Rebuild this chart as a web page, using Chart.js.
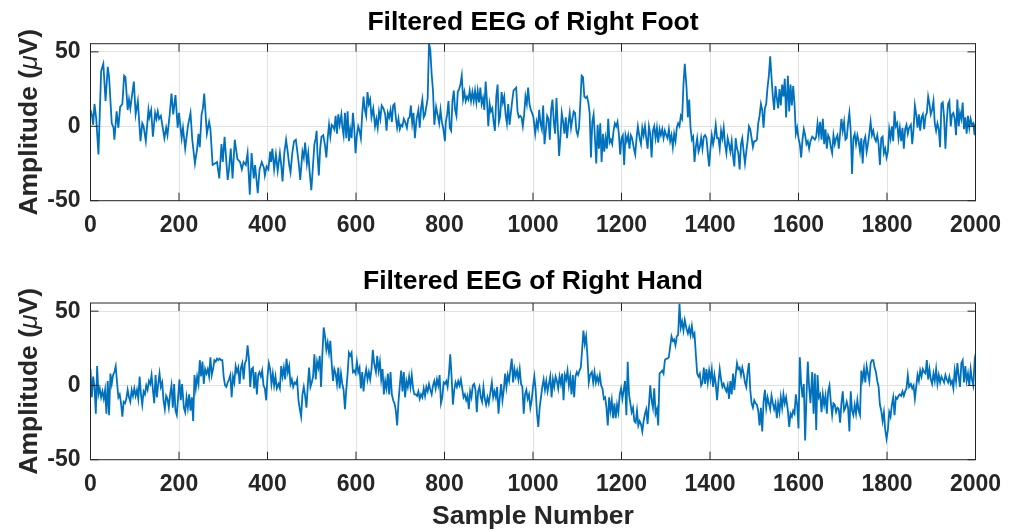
<!DOCTYPE html>
<html>
<head>
<meta charset="utf-8">
<script src="https://cdn.jsdelivr.net/npm/chart.js@4.4.1/dist/chart.umd.min.js"></script>
<style>
  body { margin: 0; background: #fff; }
  #wrap { position: relative; width: 1016px; height: 531px; }
  .panel { position: absolute; left: 0; width: 1016px; }
</style>
</head>
<body>
<div id="wrap">
  <div class="panel" style="top:0;height:265px"><canvas id="footChart"></canvas></div>
  <div class="panel" style="top:265px;height:266px"><canvas id="handChart"></canvas></div>
</div>
<script>
// [sample, amplitude in µV]
const footTrace = [
  [0,11],[3,8],[6,1],[9,15],[13,5],[18,-19],[24,37],[29,42],[34,17],[39,40],[42,33],[48,2],[52,-1],[54,-9],[59,10],[63,-1],[67,13],[72,15],[76,34],[79,33],
  [84,11],[87,18],[90,12],[93,19],[98,30],[102,8],[107,17],[113,-10],[117,2],[120,0],[125,-10],[131,11],[133,6],[137,11],[141,-7],[146,9],[149,5],[152,10],[155,5],[159,7],
  [167,-8],[171,-1],[174,-6],[179,8],[183,22],[187,8],[192,21],[197,-1],[200,9],[206,-8],[209,-1],[214,-15],[220,0],[226,9],[230,-9],[236,-25],[241,-15],[244,-5],[247,-14],[251,8],
  [254,12],[257,22],[263,-5],[268,3],[271,-2],[276,-26],[281,-25],[286,-24],[291,-35],[296,-12],[299,-24],[303,-7],[310,-36],[313,-29],[317,-15],[321,-35],[326,-9],[332,-22],[338,-24],[342,-29],
  [346,-24],[351,-26],[355,-18],[360,-46],[364,-18],[369,-35],[372,-26],[378,-45],[382,-29],[387,-24],[392,-28],
  [394,-33],[398,-27],[402,-29],[406,-17],[408,-24],[411,-15],[415,-29],[419,-19],[423,-30],[428,-18],[431,-26],[434,-37],[438,-18],[442,-9],[446,-18],[449,-26],[452,-31],[456,-18],[460,-10],[464,-9],
  [467,-16],[471,-26],[474,-36],[479,-17],[482,-21],[485,-11],[489,-25],[492,-18],[495,-30],[499,-43],[504,-21],[506,-12],[509,-8],[511,-3],[513,-19],[516,-33],[519,-15],[522,-7],[526,-6],[530,-13],
  [533,-21],[536,-8],[539,1],[542,-7],[545,1],[548,0],[551,-2],[554,7],[557,-5],[560,8],[563,1],[567,8],[569,0],[572,-6],[575,9],[578,-8],[581,10],[584,-10],[587,-2],[590,-8],
  [593,9],[596,-1],[599,-18],[602,-6],[605,0],[608,-3],[611,-8],[614,8],[617,20],[620,11],[623,7],[626,23],[629,15],[632,18],[635,6],[639,12],[643,0],[646,5],[649,-1],[652,10],
  [655,5],[658,14],[662,12],[666,8],[669,-3],[672,9],[675,6],[678,11],[681,3],[684,14],[687,15],[690,6],[693,-1],[696,5],[699,-2],[702,1],[705,0],[708,5],[711,3],[715,-1],
  [718,5],[721,6],[724,14],[727,2],[730,9],[733,-8],[737,5],[741,11],[744,-1],[747,12],[750,18],[753,6],[756,8],[760,15],[762,19],[765,56],[768,51],[771,35],[774,24],[777,1],
  [781,13],[785,7],[788,2],[791,11],[794,3],[797,-1],
  [801,-10],[803,3],[806,8],[809,17],[812,-1],[815,-3],[818,17],[821,24],[824,11],[827,7],[830,23],[833,25],[836,28],[839,34],[842,18],[845,23],[848,17],[851,20],[854,18],[857,24],
  [860,17],[863,23],[866,17],[869,24],[872,16],[875,24],[878,16],[881,26],[884,15],[887,19],[890,11],[893,30],[896,17],[899,0],[902,15],[905,10],[908,12],[911,3],[914,-3],[917,20],
  [920,28],[923,3],[926,7],[929,23],[932,16],[935,20],[938,8],[941,2],[944,15],[947,1],[950,9],[953,17],[956,24],[959,25],[962,26],[965,10],[968,6],[971,7],[974,6],[977,0],
  [980,8],[983,20],[986,15],[989,26],[992,15],[995,11],[998,9],[1001,6],[1005,-5],[1008,3],[1011,-1],[1014,11],[1017,2],[1020,-2],[1023,14],[1026,-12],[1029,-3],[1032,7],[1035,5],[1038,-9],
  [1041,11],[1044,18],[1047,3],[1050,-5],[1053,19],[1056,0],[1059,-20],[1062,-7],[1065,9],[1068,3],[1071,-5],[1074,6],[1077,-8],[1080,2],[1083,9],[1086,-1],[1089,5],[1092,10],[1095,9],[1098,-3],
  [1101,-6],[1104,-1],[1107,16],[1110,34],[1113,33],[1116,20],[1119,19],[1122,20],[1125,16],[1128,9],[1131,-21],[1134,3],[1137,8],[1140,-8],[1143,-25],[1146,1],[1149,-15],[1152,2],[1155,-24],[1158,-5],
  [1161,-17],[1164,-8],[1167,-15],[1170,5],[1173,-11],[1176,-9],[1179,-12],[1182,-3],[1185,2],[1188,0],[1191,3],[1194,-5],[1197,-19],[1200,-8],[1203,-6],[1206,-26],[1209,-6],[1212,-10],[1215,-6],[1218,-15],
  [1221,-6],[1224,-8],[1228,-15],[1231,-19],[1234,-8],[1237,0],[1241,-8],[1244,-12],[1247,-1],[1250,-6],[1253,0],[1256,-8],[1259,-15],[1262,0],[1265,-5],[1268,-21],[1271,-3],[1274,0],[1277,-8],[1280,-1],
  [1283,-11],[1286,-2],[1289,-6],[1292,-2],[1295,-8],[1298,-3],[1301,-6],[1304,-8],[1307,-2],[1310,-10],[1313,-6],[1316,-14],[1319,-5],[1322,-10],[1325,-1],[1328,2],[1331,0],[1334,7],[1337,5],[1340,28],
  [1343,42],[1347,26],[1350,6],[1353,18],[1356,-1],[1359,-9],[1362,-7],[1365,-24],[1368,-14],[1371,-8],[1374,-17],[1377,-14],[1380,-8],[1383,-15],[1386,-7],[1389,-6],[1392,-8],[1395,-18],[1398,-27],[1401,-15],
  [1404,-6],[1407,-12],[1410,-7],[1413,1],[1416,-8],[1419,-8],[1422,-15],[1425,-3],[1428,-8],[1431,-1],[1434,-12],[1437,-18],[1440,-8],[1443,-12],[1446,-17],[1449,-10],[1452,-20],[1455,-27],[1458,-8],[1461,-15],
  [1464,-18],[1467,-29],[1470,-12],[1473,-8],[1476,-17],[1479,-25],[1482,-17],[1485,-10],[1488,0],[1491,-2],[1494,-8],[1497,-14],[1500,-10],[1503,-10],[1506,-9],[1509,2],[1512,7],[1515,15],[1518,11],[1521,-1],
  [1524,12],[1527,15],[1530,26],[1533,34],[1536,47],[1539,33],[1542,20],[1545,11],[1548,27],[1551,19],[1554,12],[1557,25],[1560,14],[1563,28],[1566,20],[1569,32],[1572,6],[1576,34],[1579,10],[1582,28],
  [1585,14],[1588,27],[1591,15],[1594,-5],[1597,-1],[1600,-8],[1603,-12],[1606,-21],[1609,-9],[1612,-2],[1615,-6],[1618,-12],[1621,-10],[1624,-15],
  [1627,-10],[1631,-7],[1634,-8],[1637,-9],[1640,-7],[1643,2],[1646,-6],[1649,3],[1652,-9],[1655,5],[1658,-12],[1661,-2],[1664,-15],[1667,-6],[1670,-8],[1673,-14],[1676,-18],[1679,-6],[1682,-12],[1685,-8],
  [1688,-6],[1691,-15],[1694,-5],[1697,5],[1700,-3],[1703,3],[1706,-9],[1709,-8],[1712,2],[1715,9],[1718,-3],[1721,-32],[1724,-8],[1727,-5],[1730,-12],[1733,-6],[1736,-10],[1739,-17],[1742,-8],[1745,-25],
  [1748,-10],[1751,-7],[1754,-17],[1757,-12],[1760,-5],[1763,3],[1766,-6],[1769,-3],[1772,-8],[1775,-10],[1778,-6],[1781,-12],[1784,-26],[1787,-8],[1790,-7],[1793,-18],[1796,-15],[1799,-21],[1802,-17],[1805,-2],
  [1808,-8],[1811,0],[1814,-10],[1817,10],[1820,0],[1823,2],[1826,-8],[1829,-1],[1832,-10],[1835,-1],[1838,-15],[1841,-2],[1844,1],[1847,-5],[1850,-1],[1854,1],[1857,-12],[1860,-2],[1863,14],[1866,8],
  [1869,-1],[1872,8],[1875,-3],[1878,6],[1881,8],[1884,-2],[1887,7],[1890,9],[1893,20],[1896,15],[1899,8],[1902,11],[1905,17],[1908,2],[1911,-3],[1914,2],[1917,-2],[1920,-14],[1923,15],[1926,16],
  [1929,6],[1932,-15],[1935,3],[1938,15],[1941,17],[1944,0],[1947,8],[1950,9],[1953,5],[1956,-6],[1959,18],[1962,0],[1965,9],[1968,5],[1971,16],[1974,-2],[1977,6],[1980,-5],[1983,7],[1986,-1],
  [1989,5],[1992,1],[1995,2],[1998,-6],[2000,2]
];

const handTrace = [
  [0,11],[3,-8],[6,6],[9,-1],[12,-19],[15,13],[18,-6],[21,-2],[24,-8],[27,-4],[30,-9],[33,-3],[36,-19],[39,3],[42,-20],[45,8],[48,1],[51,7],[54,9],[57,13],
  [60,2],[63,-8],[66,-6],[69,-12],[72,-21],[75,-11],[78,-12],[81,-9],[84,-3],[87,-8],[90,-11],[93,-3],[96,-7],[99,-2],[102,-7],[105,-3],[108,-9],[111,6],[114,-6],[117,-13],
  [120,-4],[123,-6],[126,0],[129,-3],[132,3],[135,1],[138,7],[141,-3],[144,-12],[147,7],[150,-8],[153,1],[156,8],[159,-1],[162,2],[165,-10],[168,-16],[171,-7],[174,-9],[177,-15],
  [180,-6],[183,0],[186,-15],[189,1],[192,-17],[195,-20],[198,-8],[201,4],[204,-10],[207,1],[211,-15],[214,-18],[217,-8],[220,-15],[223,-6],[226,-17],[229,-8],[232,-24],[235,7],[238,-2],
  [241,6],[244,1],[247,17],[250,6],[253,16],[256,1],[259,11],[262,8],[265,11],[268,6],[271,19],[274,7],[277,11],[280,17],[283,16],[286,18],[289,17],[292,18],[295,17],[298,17],
  [301,6],[304,0],[307,-1],[310,2],[313,4],[316,7],[319,-8],[322,6],[325,2],[328,13],[331,9],[334,12],[337,1],[340,12],[343,15],[346,4],[349,15],[352,17],[355,27],[358,18],
  [361,-1],[364,11],[367,12],[370,-2],[373,9],[376,-6],[379,7],[382,9],[385,6],[388,10],[391,0],
  [394,-2],[397,-10],[400,6],[403,15],[406,11],[409,1],[412,8],[415,0],[418,6],[421,-2],[425,1],[428,-2],[431,13],[434,6],[437,12],[440,4],[443,18],[446,9],[449,13],[452,1],
  [455,4],[458,-1],[461,2],[464,1],[467,4],[470,-10],[473,-16],[476,-21],[479,-6],[482,-1],[485,-7],[488,-15],[491,0],[494,12],[497,-1],[500,2],[503,6],[506,21],[509,4],[512,16],
  [515,12],[518,20],[521,-1],[524,21],[527,39],[530,33],[533,24],[536,29],[539,22],[542,30],[545,15],[548,3],[551,11],[554,8],[557,1],[560,12],[563,-2],[566,8],[569,1],[572,-3],
  [575,-16],[578,-3],[581,8],[584,22],[587,20],[590,22],[593,9],[596,10],[599,8],[602,16],[605,9],[608,12],[611,-2],[614,9],[617,-4],[620,6],[623,11],[626,4],[629,9],[632,4],
  [635,11],[638,24],[641,15],[645,9],[648,20],[651,10],[654,16],[657,4],[660,11],[663,-6],[666,3],[669,-2],[672,8],[675,-6],[678,9],[681,-6],[684,-10],[687,-12],[690,-17],[693,-27],
  [696,-11],[699,0],[702,10],[705,-4],[708,9],[711,-8],[714,3],[717,-1],[720,6],[723,-1],[726,7],[729,-2],[732,-6],[735,-6],[738,-7],[741,-4],[744,-9],[747,-6],[750,-8],[753,-2],
  [756,-7],[759,-1],[762,-4],[765,1],[768,-3],[771,-6],[774,0],[777,3],[780,-2],[783,4],[786,0],[789,7],[792,-12],[795,-8],[798,2],[801,1],
  [804,3],[807,-1],[810,8],[813,21],[816,6],[819,-13],[822,-3],[825,2],[828,-1],[831,3],[834,0],[837,4],[840,-2],[843,-8],[846,-6],[849,-10],[852,-7],[855,-16],[858,-4],[861,-8],
  [864,0],[867,1],[870,-3],[873,-18],[876,-4],[879,-1],[882,-8],[885,-11],[888,-1],[891,-9],[894,-13],[897,-8],[900,-12],[903,-6],[907,2],[910,-8],[913,-4],[916,-8],[919,-1],[922,-19],
  [925,-8],[928,1],[931,-10],[934,-3],[937,8],[940,-1],[943,7],[946,3],[949,11],[952,18],[955,2],[958,11],[961,6],[964,10],[967,4],[970,11],[973,1],[976,-1],[979,-19],[982,-6],
  [985,-3],[988,-9],[991,-6],[994,-15],[997,-10],[1000,-1],[1003,6],[1006,-3],[1009,-19],[1012,-28],[1015,-15],[1018,-8],[1021,-1],[1024,4],[1027,-3],[1030,3],[1033,-4],[1036,1],[1039,6],[1042,-8],
  [1045,4],[1048,-1],[1051,6],[1054,3],[1057,-2],[1060,6],[1063,1],[1066,8],[1069,-10],[1072,7],[1075,4],[1078,10],[1081,0],[1084,6],[1087,-6],[1090,7],[1093,-8],[1096,6],[1099,9],[1102,7],
  [1105,10],[1108,12],[1111,24],[1114,37],[1117,28],[1120,33],[1123,20],[1126,2],[1129,7],[1133,9],[1136,2],[1139,9],[1142,2],[1145,6],[1148,2],[1151,7],[1154,0],[1157,-2],[1160,-9],[1163,-8],
  [1166,-15],[1169,-27],[1172,-8],[1175,-17],[1178,-10],[1181,-22],[1184,-12],[1187,-22],[1190,-13],[1193,-18],[1196,-6],[1199,-2],[1202,-9],[1205,-3],[1208,3],[1211,-20],[1214,16],[1217,-6],
  [1220,-12],[1223,-18],[1226,-15],[1229,-24],[1232,-25],[1235,-17],[1238,-27],[1241,-24],[1244,-26],[1247,-31],[1250,-24],[1253,-19],[1256,-16],[1259,-26],[1262,-13],[1265,0],[1268,-10],[1271,-15],[1274,-2],[1277,-19],
  [1280,-16],[1283,-27],[1286,8],[1289,9],[1292,10],[1295,8],[1298,17],[1301,18],[1304,18],[1307,19],[1310,26],[1313,33],[1316,30],[1319,31],[1322,27],[1325,33],[1328,34],[1331,55],[1334,39],[1337,43],
  [1340,37],[1343,44],[1347,38],[1350,35],[1353,39],[1356,34],[1359,40],[1362,33],[1365,35],[1368,21],[1371,8],[1374,6],[1377,8],[1380,0],[1383,2],[1386,12],[1389,1],[1392,11],[1395,2],[1398,10],
  [1401,4],[1404,11],[1407,-1],[1410,7],[1413,1],[1416,-10],[1419,2],[1422,11],[1425,4],[1428,-1],[1431,1],[1434,-2],[1437,-4],[1440,0],[1443,-9],[1446,3],[1449,-6],[1452,8],[1455,-3],[1458,7],
  [1461,15],[1464,11],[1467,12],[1470,7],[1473,12],[1476,8],[1479,2],[1482,-1],[1485,9],[1488,15],[1491,-3],[1494,-12],[1497,-15],[1500,-10],[1503,-12],[1506,-13],[1509,-17],[1512,-27],[1515,-15],[1518,-31],
  [1521,-11],[1524,-3],[1527,-15],[1530,-8],[1533,-12],[1536,-16],[1539,-7],[1542,-12],[1545,-16],[1548,-12],[1551,-22],[1554,-12],[1557,-18],[1560,-8],[1563,-15],[1566,-6],[1569,-12],[1572,-8],[1576,-17],[1579,-28],
  [1582,-19],[1585,-21],[1588,-17],[1591,-19],[1594,-6],[1597,-13],[1600,-29],
  [1603,19],[1606,1],[1609,-8],[1612,1],[1615,-37],[1618,-8],[1621,16],[1624,-1],[1627,-12],[1631,9],[1634,-19],[1637,8],[1640,-30],[1643,7],[1646,-8],[1649,-6],[1652,-18],[1655,-6],[1658,-13],[1661,-7],
  [1664,-19],[1667,-4],[1670,0],[1673,-11],[1676,-20],[1679,-12],[1682,-13],[1685,-18],[1688,-15],[1691,-16],[1694,-25],[1697,-12],[1700,-4],[1703,-17],[1706,-15],[1709,-11],[1712,-15],[1715,-31],[1718,-4],[1721,-17],
  [1724,-20],[1727,-13],[1730,-19],[1733,-10],[1736,-17],[1739,-20],[1742,10],[1745,4],[1748,11],[1751,2],[1754,13],[1757,8],[1760,3],[1763,15],[1766,17],[1769,17],[1772,12],[1775,9],[1778,3],[1781,-1],
  [1784,-13],[1787,-17],[1790,-24],[1793,-18],[1796,-30],[1799,-36],[1802,-30],[1805,-18],[1808,-21],[1811,-13],[1814,-8],[1817,-20],[1820,-8],[1823,-9],[1826,-7],[1829,-6],[1832,-7],[1835,-4],[1838,-7],[1841,-4],
  [1844,-2],[1847,7],[1850,-1],[1854,1],[1857,-2],[1860,0],[1863,-9],[1866,-1],[1869,7],[1872,3],[1875,10],[1878,6],[1881,11],[1884,9],[1887,8],[1890,17],[1893,4],[1896,11],[1899,4],[1902,1],
  [1905,8],[1908,3],[1911,11],[1914,1],[1917,7],[1920,2],[1923,6],[1926,4],[1929,2],[1932,7],[1935,4],[1938,2],[1941,6],[1944,1],[1947,3],[1950,-2],[1953,10],[1956,3],[1959,15],[1962,6],
  [1965,-1],[1968,15],[1971,17],[1974,2],[1977,13],[1980,3],[1983,8],[1986,0],[1989,11],[1992,4],[1995,0],[1998,16],[2000,12]
];

const xTicks = [0, 200, 400, 600, 800, 1000, 1200, 1400, 1600, 1800, 2000];
const yTicks = [-50, 0, 50];
const panelTitles = ['Filtered EEG of Right Foot', 'Filtered EEG of Right Hand'];
const xLabel = 'Sample Number';

const FONT = '"Liberation Sans", Arial, Helvetica, sans-serif';
const AXIS_COLOR = '#262626';
const LINE_COLOR = '#0072BD';

// box around the axes with MATLAB-style inward ticks
const framePlugin = {
  id: 'frame',
  afterDraw(chart) {
    const { ctx, chartArea: a, scales } = chart;
    const tl = 8;
    ctx.save();
    ctx.strokeStyle = AXIS_COLOR;
    ctx.lineWidth = 1;
    ctx.strokeRect(a.left, a.top, a.right - a.left, a.bottom - a.top);
    ctx.beginPath();
    xTicks.forEach(v => {
      const px = scales.x.getPixelForValue(v);
      ctx.moveTo(px, a.bottom); ctx.lineTo(px, a.bottom - tl);
      ctx.moveTo(px, a.top); ctx.lineTo(px, a.top + tl);
    });
    yTicks.forEach(v => {
      const py = scales.y.getPixelForValue(v);
      ctx.moveTo(a.left, py); ctx.lineTo(a.left + tl, py);
      ctx.moveTo(a.right, py); ctx.lineTo(a.right - tl, py);
    });
    ctx.stroke();
    ctx.restore();
  }
};

// y label with italic mu, and x label on the lower panel
const labelPlugin = {
  id: 'labels',
  afterDraw(chart, args, opts) {
    const { ctx, chartArea: a } = chart;
    const parts = [
      ['Amplitude (', 'bold 26.5px ' + FONT],
      ['\u03BC', 'italic 26.5px ' + FONT],
      ['V)', 'bold 26.5px ' + FONT]
    ];
    ctx.save();
    ctx.fillStyle = AXIS_COLOR;
    let total = 0;
    parts.forEach(p => { ctx.font = p[1]; total += ctx.measureText(p[0]).width; });
    ctx.translate(37, (a.top + a.bottom) / 2);
    ctx.rotate(-Math.PI / 2);
    ctx.textBaseline = 'alphabetic';
    ctx.textAlign = 'left';
    let x = -total / 2;
    parts.forEach(p => {
      ctx.font = p[1];
      ctx.fillText(p[0], x, 0);
      x += ctx.measureText(p[0]).width;
    });
    ctx.restore();
    if (opts.xLabel) {
      ctx.save();
      ctx.fillStyle = AXIS_COLOR;
      ctx.font = 'bold 26.5px ' + FONT;
      ctx.textAlign = 'center';
      ctx.textBaseline = 'middle';
      ctx.fillText(opts.xLabel, (a.left + a.right) / 2, opts.xLabelY);
      ctx.restore();
    }
  }
};

function makePanel(id, trace, title, p) {
  const tickFont = { family: FONT, size: 23, weight: 'bold', lineHeight: 1 };
  return new Chart(document.getElementById(id), {
    type: 'line',
    data: {
      datasets: [{
        data: trace.map(d => ({ x: d[0], y: d[1] })),
        borderColor: LINE_COLOR,
        borderWidth: 1.8,
        pointRadius: 0,
        tension: 0,
        fill: false
      }]
    },
    options: {
      responsive: true,
      maintainAspectRatio: false,
      animation: false,
      layout: { padding: { left: 0, right: 40.5, top: 0, bottom: 0 } },
      plugins: {
        legend: { display: false },
        tooltip: { enabled: false },
        title: {
          display: true,
          text: title,
          fullSize: false,
          color: '#000',
          font: { family: FONT, size: 26.5, weight: 'bold', lineHeight: 1 },
          padding: { top: p.titleTop, bottom: p.titleBottom }
        },
        labels: { xLabel: p.xLabel, xLabelY: p.xLabelY }
      },
      scales: {
        x: {
          type: 'linear',
          min: 0,
          max: 2000,
          afterBuildTicks: s => { s.ticks = xTicks.map(v => ({ value: v })); },
          afterFit: s => { s.height = p.xHeight; },
          ticks: { font: tickFont, color: AXIS_COLOR, padding: 13.5, maxRotation: 0, autoSkip: false, callback: v => String(v) },
          grid: { color: '#e2e2e2', lineWidth: 1, drawTicks: false },
          border: { display: false }
        },
        y: {
          min: -50,
          max: 55.5,
          afterBuildTicks: s => { s.ticks = yTicks.map(v => ({ value: v })); },
          afterFit: s => { s.width = 90.5; },
          ticks: { font: tickFont, color: AXIS_COLOR, padding: 10, callback: v => String(v) },
          grid: { color: '#e2e2e2', lineWidth: 1, drawTicks: false },
          border: { display: false }
        }
      }
    },
    plugins: [framePlugin, labelPlugin]
  });
}

makePanel('footChart', footTrace, panelTitles[0], {
  titleTop: 9.25, titleBottom: 7.95, xHeight: 64.3
});
makePanel('handChart', handTrace, panelTitles[1], {
  titleTop: 3.55, titleBottom: 7.95, xHeight: 71.3, xLabel: xLabel, xLabelY: 251.5
});
</script>
</body>
</html>
